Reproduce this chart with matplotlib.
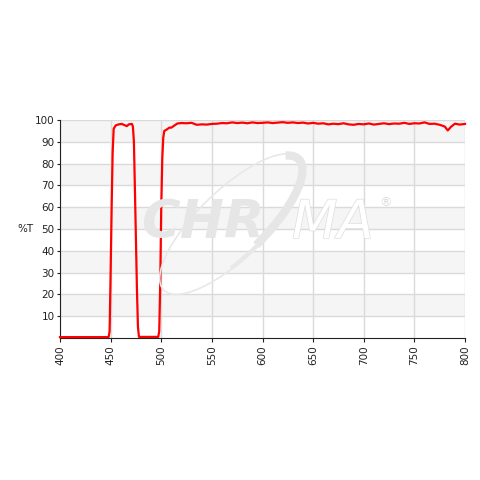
import matplotlib
matplotlib.use("Agg")
import matplotlib.pyplot as plt
import matplotlib.patheffects as pe
from matplotlib.patches import Arc, Ellipse

wl = [400, 448, 449, 450, 451, 452, 453, 455, 458, 461, 464, 466, 468, 471, 472, 473, 474, 475, 476, 477, 478,
      497, 498, 499, 500, 501, 502, 503, 505, 508, 510, 513, 516, 520, 525, 530, 535, 540, 545, 550,
      555, 560, 565, 570, 575, 580, 585, 590, 595, 600, 605, 610, 615, 620, 625, 630, 635, 640, 645, 650,
      655, 660, 665, 670, 675, 680, 685, 690, 695, 700, 705, 710, 715, 720, 725, 730, 735, 740, 745, 750,
      755, 760, 765, 770, 775, 780, 783, 786, 790, 795, 800]
tr = [0.4, 0.4, 3, 30, 60, 85, 96, 97.5, 98, 98.2, 97.6, 97.2, 98, 98.2, 97, 90, 68, 45, 22, 5, 0.5,
      0.5, 3, 25, 60, 82, 92, 95, 95.5, 96.5, 96.5, 97.5, 98.4, 98.6, 98.5, 98.7, 97.8, 98, 97.9, 98.2,
      98.3, 98.6, 98.5, 98.9, 98.6, 98.8, 98.5, 98.9, 98.6, 98.7, 98.9, 98.6, 98.8, 99.0, 98.7, 98.9, 98.6, 98.8, 98.4, 98.7,
      98.3, 98.5, 98.0, 98.3, 98.1, 98.5, 98.0, 97.8, 98.2, 98.0, 98.4, 97.9, 98.2, 98.5, 98.1, 98.4, 98.3, 98.7, 98.2, 98.5,
      98.4, 98.9, 98.2, 98.3, 97.8, 97.0, 95.2, 96.8, 98.3, 97.9, 98.2]

xticks = [400, 450, 500, 550, 600, 650, 700, 750, 800]
yticks = [10, 20, 30, 40, 50, 60, 70, 80, 90, 100]

fig = plt.figure(figsize=(4.8, 4.8), dpi=100)
ax = fig.add_axes([60/480, 1-338/480, 405/480, 218/480])

# alternating bands
for lo in range(10, 100, 20):
    ax.axhspan(lo, lo+10, color="#f5f5f5", zorder=0, lw=0)

ax.set_xlim(400, 800)
ax.set_ylim(0, 100)
ax.set_xticks(xticks)
ax.set_yticks(yticks)
ax.set_xticklabels([str(v) for v in xticks], rotation=90, fontsize=7.5, color="#222222")
ax.set_yticklabels([str(v) for v in yticks], fontsize=7.5, color="#222222")
ax.grid(True, color="#dadada", lw=1, zorder=1)
ax.tick_params(axis="x", direction="out", length=3, width=0.8, color="#222222", pad=2)
ax.tick_params(axis="y", direction="out", length=2, width=0.8, color="#222222", pad=2)
for s in ["top", "right"]:
    ax.spines[s].set_visible(False)
for s in ["left", "bottom"]:
    ax.spines[s].set_color("#222222")
    ax.spines[s].set_linewidth(0.8)

fig.text(25/480, 1-229/480, "%T", fontsize=7.5, color="#222222", ha="center", va="center")

# watermark
wm = "#e6e6e6"
fig.text(141/480, 1-238/480, "CHR", fontsize=38, fontweight="bold", style="italic",
         color=wm, zorder=2, family="DejaVu Sans")
fig.text(292/480, 1-238/480, "MA", fontsize=38, style="italic", color="white",
         zorder=2, family="DejaVu Sans",
         path_effects=[pe.Stroke(linewidth=1.0, foreground="#dedede"), pe.Normal()])
fig.text(379/480, 1-206/480, "®", fontsize=9, color="#dcdcdc", zorder=2)
cx, cy = 232/480, 1-224/480
ell = Ellipse((cx, cy), 190/480, 68/480, angle=44, transform=fig.transFigure,
              fill=False, edgecolor="#e8e8e8", lw=1.2, zorder=2)
fig.patches.append(ell)
arc = Arc((cx, cy), 186/480, 64/480, angle=44, theta1=-85, theta2=8,
          transform=fig.transFigure, color="#e6e6e6", lw=6, zorder=2)
fig.patches.append(arc)
arc2 = Arc((cx, cy), 188/480, 66/480, angle=44, theta1=-135, theta2=-80,
           transform=fig.transFigure, color="#e8e8e8", lw=3, zorder=2)
fig.patches.append(arc2)

ax.plot(wl, tr, color="#ff0000", lw=1.6, zorder=5, clip_on=False)

fig.savefig("out.png", dpi=100)
